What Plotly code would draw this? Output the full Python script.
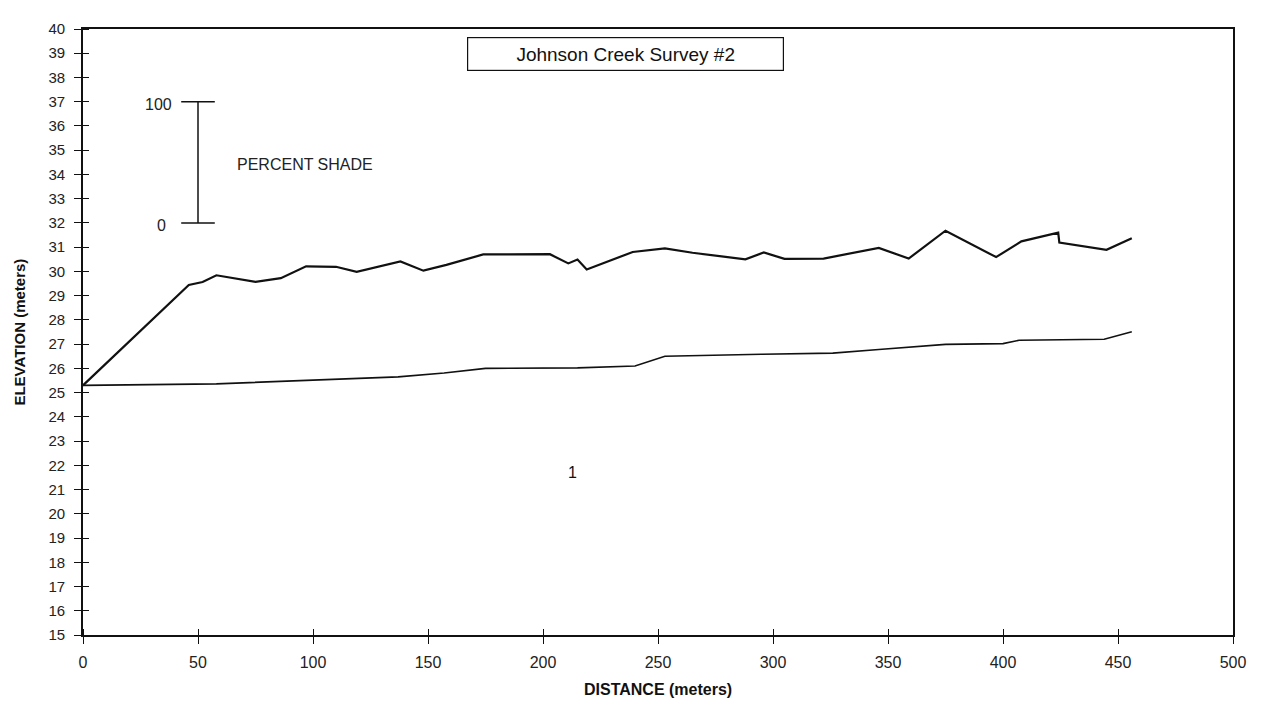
import plotly.graph_objects as go

# survey readings (distance along reach, elevation in meters)
dist_top = [0, 46, 52, 58, 75, 86, 97, 110, 119, 138, 148, 158, 174, 203, 211, 215, 219,
            239, 253, 265, 288, 296, 305, 322, 346, 359, 375, 397, 408, 424, 424.5, 445, 456]
elev_top = [25.3, 29.44, 29.56, 29.84, 29.57, 29.72, 30.21, 30.19, 29.98, 30.41, 30.03, 30.27,
            30.70, 30.71, 30.33, 30.49, 30.08, 30.80, 30.95, 30.77, 30.50, 30.78, 30.52, 30.53,
            30.97, 30.53, 31.68, 30.59, 31.24, 31.60, 31.19, 30.89, 31.37]

dist_bed = [0, 58, 137, 157, 175, 215, 240, 253, 295, 326, 346, 375, 400, 407, 444, 456]
elev_bed = [25.3, 25.36, 25.65, 25.81, 26.0, 26.02, 26.1, 26.5, 26.58, 26.63, 26.78, 26.99,
            27.02, 27.16, 27.2, 27.51]

# percent shade scale bar
shade_x = [50, 50]
shade_y = [32, 37]
shade_labels = ["0", "100"]

x_ticks = list(range(0, 501, 50))
y_ticks = list(range(15, 41))

FONT = "Liberation Sans, Arial, sans-serif"
INK = "#111111"
GREY = "#222222"

fig = go.Figure()
fig.add_trace(go.Scatter(x=dist_top, y=elev_top, mode="lines",
                         line=dict(color=INK, width=2.2), showlegend=False))
fig.add_trace(go.Scatter(x=dist_bed, y=elev_bed, mode="lines",
                         line=dict(color=INK, width=1.6), showlegend=False))
fig.add_trace(go.Scatter(x=shade_x, y=shade_y, mode="lines+markers",
                         line=dict(color=INK, width=1.5),
                         marker=dict(symbol="line-ew-open", size=24,
                                     line=dict(color=INK, width=1.5)),
                         showlegend=False))

axis_common = dict(showgrid=False, zeroline=False, showline=True, mirror=True,
                   linecolor=INK, linewidth=1.6, ticks="outside", ticklen=7,
                   tickwidth=1.3, tickcolor=INK)

fig.update_xaxes(range=[0, 500], tickvals=x_ticks, ticklabelstandoff=5,
                 tickfont=dict(family=FONT, size=16, color=GREY),
                 minor=dict(ticks="inside", tickvals=x_ticks, ticklen=6,
                            tickwidth=1.3, tickcolor=INK),
                 **axis_common)
fig.update_yaxes(range=[15, 40], tickvals=y_ticks, ticklabelstandoff=6,
                 tickfont=dict(family=FONT, size=15, color=GREY),
                 minor=dict(ticks="inside", tickvals=y_ticks, ticklen=6,
                            tickwidth=1.3, tickcolor=INK),
                 **axis_common)

annos = [
    dict(text="Johnson Creek Survey #2", xref="paper", yref="paper", x=0.4716, y=0.959,
         xanchor="center", yanchor="middle", showarrow=False,
         font=dict(family=FONT, size=19, color=INK),
         bordercolor=INK, borderwidth=1.2, borderpad=5, width=305, height=22,
         bgcolor="white"),
    dict(text="PERCENT SHADE", x=66, y=34.42, xanchor="left", yanchor="middle",
         showarrow=False, font=dict(family=FONT, size=16, color=GREY)),
    dict(text=shade_labels[1], x=shade_x[1], y=shade_y[1], xanchor="right", yanchor="middle",
         xshift=-24, yshift=-3, showarrow=False, font=dict(family=FONT, size=16, color=GREY)),
    dict(text=shade_labels[0], x=shade_x[0], y=shade_y[0], xanchor="right", yanchor="middle",
         xshift=-30, yshift=-3, showarrow=False, font=dict(family=FONT, size=16, color=GREY)),
    dict(text="1", x=213, y=21.7, xanchor="center", yanchor="middle", showarrow=False,
         font=dict(family=FONT, size=16, color=INK)),
    dict(text="<b>ELEVATION (meters)</b>", xref="paper", yref="paper", x=-0.056, y=0.5,
         xanchor="center", yanchor="middle", textangle=-90, showarrow=False,
         font=dict(family=FONT, size=15, color=INK)),
    dict(text="<b>DISTANCE (meters)</b>", xref="paper", yref="paper", x=0.5, y=-0.09,
         xanchor="center", yanchor="middle", showarrow=False,
         font=dict(family=FONT, size=16, color=INK)),
]

# page body adds an 8px margin, so the figure is sized and offset to fit the window
fig.update_layout(width=1250, height=690, paper_bgcolor="white", plot_bgcolor="white",
                  margin=dict(l=75, r=17, t=17, b=63), annotations=annos,
                  font=dict(family=FONT))

fig.write_html("out.html")
